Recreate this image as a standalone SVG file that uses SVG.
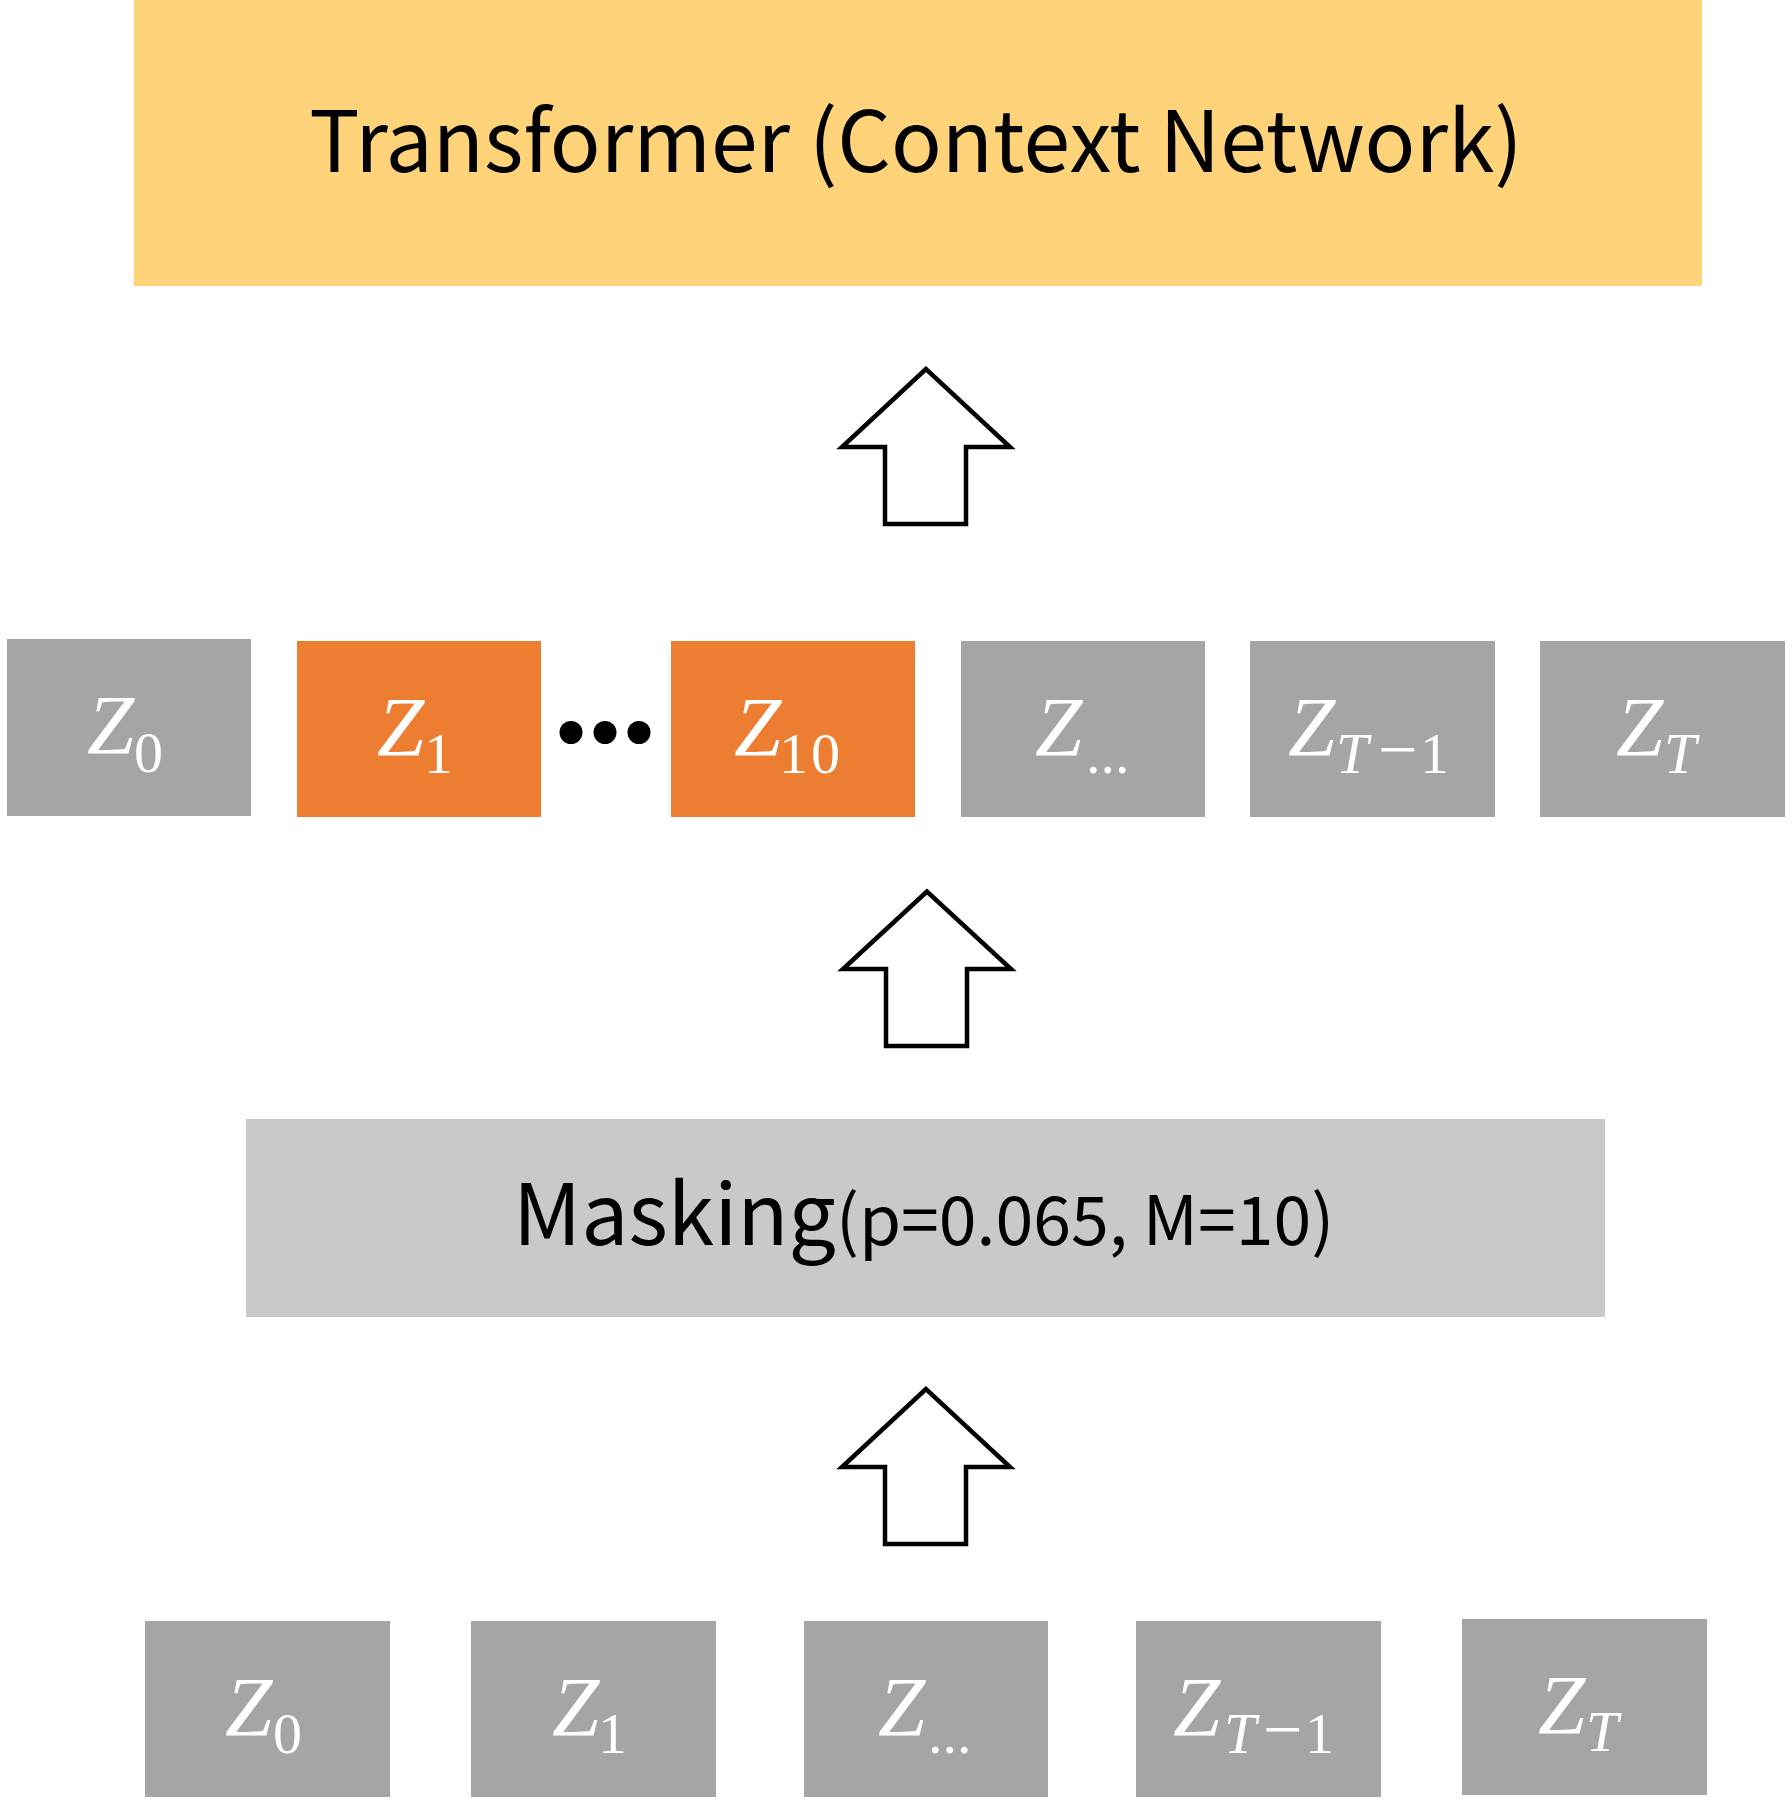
<svg xmlns="http://www.w3.org/2000/svg" width="1792" height="1805" viewBox="0 0 1792 1805">
<defs>
<style>
.gray{fill:#A5A5A5}
.orange{fill:#ED7D31}
.z{font-family:"Liberation Serif","DejaVu Serif",serif;fill:#FFFFFF}
.zi{font-style:italic;font-size:85px}
.sub{font-size:58px}
.subi{font-size:58px;font-style:italic}
.minus{font-size:70px}
.sans{font-family:"Noto Sans CJK KR","Noto Sans",sans-serif;fill:#000000}
.arrow{fill:#FFFFFF;stroke:#000000;stroke-width:4.5;stroke-linejoin:miter;stroke-miterlimit:10}
</style>
</defs>
<rect width="1792" height="1805" fill="#FFFFFF"/>

<g id="transformer">
<rect x="134" y="0" width="1568" height="286" fill="#FED37A"/>
<text class="sans" x="916" y="172" font-size="84" text-anchor="middle">Transformer (Context Network)</text>
</g>

<g id="masking">
<rect x="246" y="1119" width="1359" height="198" fill="#C9C9C9"/>
<text class="sans" x="513" y="1245"><tspan font-size="84">Masking</tspan><tspan font-size="68">(p=0.065, M=10)</tspan></text>
</g>

<g id="connectors">
<path class="arrow" d="M926,369 L842,447 L885,447 L885,524 L966,524 L966,447 L1010,447 Z"/>
<path class="arrow" d="M927,891.5 L843,969 L886,969 L886,1046 L967,1046 L967,969 L1011,969 Z"/>
<path class="arrow" d="M926,1389 L842,1467 L885,1467 L885,1544 L966,1544 L966,1467 L1010,1467 Z"/>
</g>

<!-- middle row -->
<g id="m_z0">
<rect class="gray" x="7" y="639" width="244" height="177"/>
<text class="z" y="754"><tspan class="zi" x="87">Z</tspan><tspan class="sub" x="134" y="772">0</tspan></text>
</g>
<g id="m_z1">
<rect class="orange" x="297" y="641" width="244" height="176"/>
<text class="z" y="756"><tspan class="zi" x="377">Z</tspan><tspan class="sub" x="424" y="773">1</tspan></text>
</g>
<g id="m_dots">
<circle cx="571" cy="732.5" r="11.5" fill="#000000"/>
<circle cx="605" cy="732.5" r="11.5" fill="#000000"/>
<circle cx="639" cy="732.5" r="11.5" fill="#000000"/>
</g>
<g id="m_z10">
<rect class="orange" x="671" y="641" width="244" height="176"/>
<text class="z" y="756"><tspan class="zi" x="734">Z</tspan><tspan class="sub" x="779" y="773" letter-spacing="3">10</tspan></text>
</g>
<g id="m_zdots">
<rect class="gray" x="961" y="641" width="244" height="176"/>
<text class="z" y="756"><tspan class="zi" x="1035">Z</tspan><tspan class="sub" x="1086" y="773">...</tspan></text>
</g>
<g id="m_zt1">
<rect class="gray" x="1250" y="641" width="245" height="176"/>
<text class="z" y="756"><tspan class="zi" x="1288">Z</tspan><tspan class="subi" x="1336" y="773">T</tspan><tspan class="minus" x="1378" y="773">−</tspan><tspan class="sub" x="1420" y="773">1</tspan></text>
</g>
<g id="m_zt">
<rect class="gray" x="1540" y="641" width="245" height="176"/>
<text class="z" y="756"><tspan class="zi" x="1616">Z</tspan><tspan class="subi" x="1664" y="773">T</tspan></text>
</g>

<!-- bottom row -->
<g id="b_z0">
<rect class="gray" x="145" y="1621" width="245" height="176"/>
<text class="z" y="1736"><tspan class="zi" x="225">Z</tspan><tspan class="sub" x="273" y="1753">0</tspan></text>
</g>
<g id="b_z1">
<rect class="gray" x="471" y="1621" width="245" height="176"/>
<text class="z" y="1736"><tspan class="zi" x="552">Z</tspan><tspan class="sub" x="598" y="1753">1</tspan></text>
</g>
<g id="b_zdots">
<rect class="gray" x="804" y="1621" width="244" height="176"/>
<text class="z" y="1736"><tspan class="zi" x="878">Z</tspan><tspan class="sub" x="928" y="1753">...</tspan></text>
</g>
<g id="b_zt1">
<rect class="gray" x="1136" y="1621" width="245" height="176"/>
<text class="z" y="1736"><tspan class="zi" x="1173">Z</tspan><tspan class="subi" x="1224" y="1753">T</tspan><tspan class="minus" x="1263" y="1753">−</tspan><tspan class="sub" x="1305" y="1753">1</tspan></text>
</g>
<g id="b_zt">
<rect class="gray" x="1462" y="1619" width="245" height="176"/>
<text class="z" y="1734"><tspan class="zi" x="1538">Z</tspan><tspan class="subi" x="1586" y="1751">T</tspan></text>
</g>
</svg>
